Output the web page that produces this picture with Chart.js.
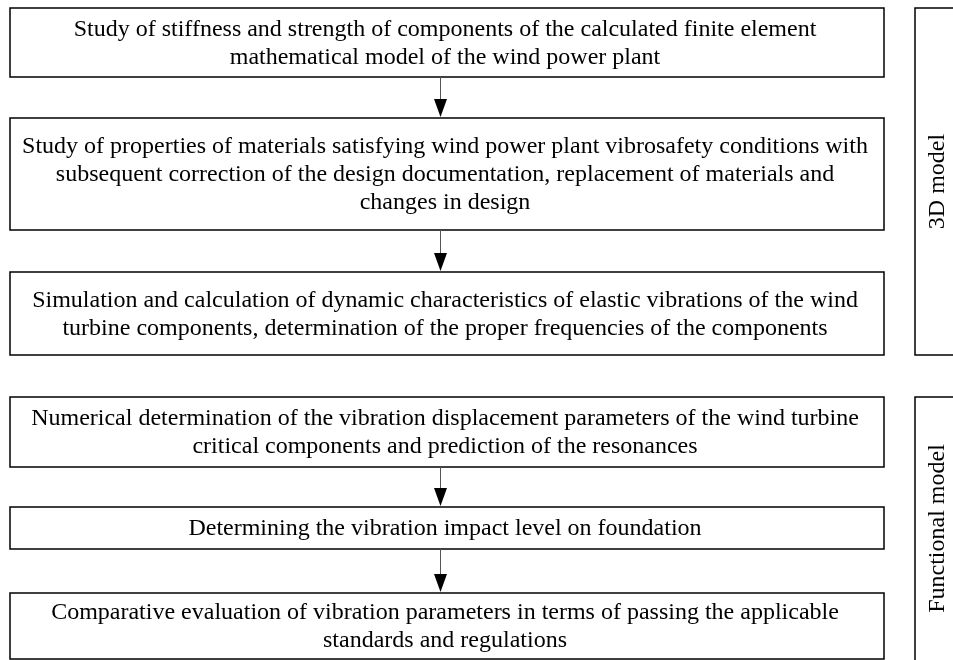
<!DOCTYPE html>
<html>
<head>
<meta charset="utf-8">
<script src="https://cdn.jsdelivr.net/npm/chart.js@4/dist/chart.umd.min.js"></script>
<style>
html,body{margin:0;padding:0;background:#fff;}
#wrap{width:953px;height:660px;}
</style>
</head>
<body>
<div id="wrap"><canvas id="c" width="953" height="660"></canvas></div>
<script>
// Flowchart content
const steps = [
  ["Study of stiffness and strength of components of the calculated finite element", "mathematical model of the wind power plant"],
  ["Study of properties of materials satisfying wind power plant vibrosafety conditions with", "subsequent correction of the design documentation, replacement of materials and", "changes in design"],
  ["Simulation and calculation of dynamic characteristics of elastic vibrations of the wind", "turbine components, determination of the proper frequencies of the components"],
  ["Numerical determination of the vibration displacement parameters of the wind turbine", "critical components and prediction of the resonances"],
  ["Determining the vibration impact level on foundation"],
  ["Comparative evaluation of vibration parameters in terms of passing the applicable", "standards and regulations"]
];
const groupLabels = ["3D model", "Functional model"];
const groupOf = [0, 0, 0, 1, 1, 1];
// arrows connect step i -> step i+1 within a group
const arrows = [[0,1],[1,2],[3,4],[4,5]];

// Layout in data units of the (hidden) scales
const layout = {
  boxX: [10, 884],
  boxY: [[8,77],[118,230],[272,355],[397,467],[507,549],[593,659]],
  groupX: [915, 960],
  groupY: [[8,355],[397,662]],
  arrowX: 440,
  lineHeight: 28,
  labelX: 938
};

const flowPlugin = {
  id: 'flow',
  afterDatasetsDraw(chart) {
    const ctx = chart.ctx;
    const xs = chart.scales.x, ys = chart.scales.y;
    const X = v => xs.getPixelForValue(v);
    const Y = v => ys.getPixelForValue(v);
    ctx.save();
    ctx.font = '24px "Liberation Serif", "Times New Roman", serif';
    ctx.fillStyle = '#000';
    ctx.textAlign = 'center';
    ctx.textBaseline = 'middle';
    // boxes
    steps.forEach((lines, i) => {
      const [t, b] = layout.boxY[i];
      const x0 = X(layout.boxX[0]), x1 = X(layout.boxX[1]);
      const y0 = Y(t), y1 = Y(b);
      ctx.strokeStyle = '#000';
      ctx.lineWidth = 1.5;
      ctx.strokeRect(x0, y0, x1 - x0, y1 - y0);
      const cy = (y0 + y1) / 2;
      const cx = (x0 + x1) / 2 - 2;
      const n = lines.length;
      lines.forEach((ln, k) => {
        ctx.fillText(ln, cx, cy + (k - (n - 1) / 2) * layout.lineHeight + 1);
      });
    });
    // arrows
    arrows.forEach(([a, b]) => {
      const x = X(layout.arrowX);
      const ya = Y(layout.boxY[a][1]), yb = Y(layout.boxY[b][0]);
      ctx.strokeStyle = '#555';
      ctx.lineWidth = 1;
      ctx.beginPath();
      ctx.moveTo(x + 0.5, ya);
      ctx.lineTo(x + 0.5, yb - 18);
      ctx.stroke();
      ctx.fillStyle = '#000';
      ctx.beginPath();
      ctx.moveTo(x + 0.5 - 6.5, yb - 19);
      ctx.lineTo(x + 0.5 + 6.5, yb - 19);
      ctx.lineTo(x + 0.5, yb - 1);
      ctx.closePath();
      ctx.fill();
    });
    // group brackets
    groupLabels.forEach((lab, g) => {
      const [t, b] = layout.groupY[g];
      const x0 = X(layout.groupX[0]), x1 = X(layout.groupX[1]);
      const y0 = Y(t), y1 = Y(b);
      ctx.strokeStyle = '#000';
      ctx.lineWidth = 1.5;
      ctx.strokeRect(x0, y0, x1 - x0, y1 - y0);
      ctx.save();
      ctx.translate(X(layout.labelX), (y0 + Math.min(y1, Y(660))) / 2);
      ctx.rotate(-Math.PI / 2);
      ctx.fillStyle = '#000';
      ctx.fillText(lab, 0, 0);
      ctx.restore();
    });
    ctx.restore();
  }
};

new Chart(document.getElementById('c'), {
  type: 'scatter',
  data: { datasets: [{ data: [], pointRadius: 0 }] },
  options: {
    responsive: false,
    animation: false,
    events: [],
    layout: { padding: 0 },
    plugins: { legend: { display: false }, tooltip: { enabled: false }, title: { display: false } },
    scales: {
      x: { type: 'linear', min: 0, max: 953, display: false },
      y: { type: 'linear', min: 0, max: 660, reverse: true, display: false }
    }
  },
  plugins: [flowPlugin]
});
</script>
</body>
</html>
